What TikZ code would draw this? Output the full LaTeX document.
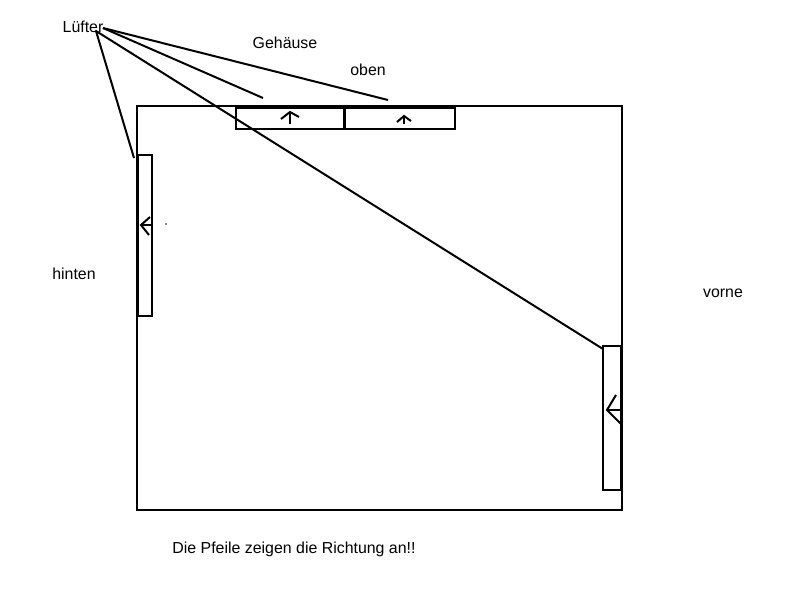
\documentclass[tikz,border=0pt]{standalone}
\usepackage{fontspec}
\setmainfont{Liberation Sans}
\begin{document}
\begin{tikzpicture}[x=1pt,y=-1pt,
  ln/.style={line width=2pt},
  lbl/.style={font=\fontsize{15.9}{18}\selectfont,inner sep=0pt}]
\useasboundingbox (0,0) rectangle (800,600);
% housing
\draw[ln] (137,106) rectangle (622,510);
% fans
\draw[ln] (236,108) rectangle (344,129);
\draw[ln] (345,108) rectangle (455,129);
\draw[ln] (138,155) rectangle (152,316);
\draw[ln] (603,346) rectangle (621,490);
% coordinates for fan targets
\coordinate (lf) at (103,28);
\coordinate (lf2) at (96,31);
\coordinate (t1) at (263,98);
\coordinate (t2) at (388,100);
\coordinate (tl) at (134,158);
\coordinate (tr) at (603,349);
% arrows inside fans
\draw[ln] (290,124) -- (290,112);
\draw[ln] (281,119) -- (290,112) -- (299,117);
\draw[ln] (404,124) -- (404,116);
\draw[ln] (397,122) -- (404,116) -- (411,121);
\draw[ln] (141,225) -- (152,225);
\draw[ln] (150,217) -- (141,225) -- (149,235);
\draw[ln] (607,410) -- (621,410);
\draw[ln] (616,395) -- (607,410) -- (621,424);
\fill (166,224) circle (0.8);
% labels
\node[lbl] (luefter) at (83,27) {Lüfter};
\node[lbl] (gehaeuse) at (285,43) {Gehäuse};
\node[lbl] (oben) at (368,70) {oben};
\node[lbl] (hinten) at (74,274) {hinten};
\node[lbl] (vorne) at (723,293) {vorne};
\node[lbl] (note) at (294,549) {Die Pfeile zeigen die Richtung an!!};
% pointer lines
\draw[ln] (lf) -- (t2);
\draw[ln] (lf) -- (t1);
\draw[ln] (lf2) -- (tl);
\draw[ln] (lf2) -- (tr);
\end{tikzpicture}
\end{document}
